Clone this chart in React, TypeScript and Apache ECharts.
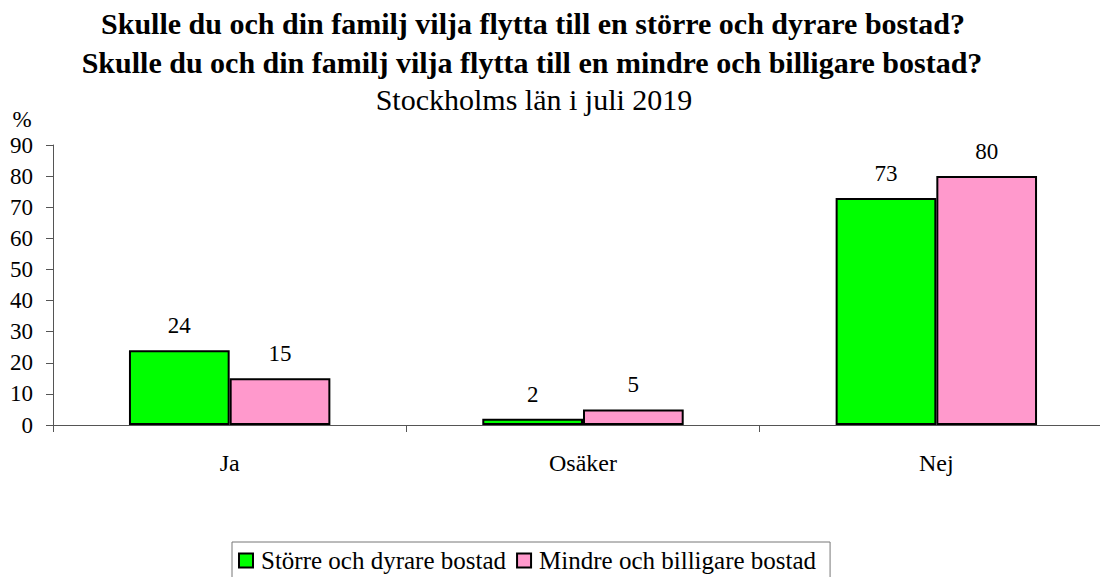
import React, { useEffect, useRef } from "react";
import * as echarts from "echarts";

const categories = ["Ja", "Osäker", "Nej"];
const seriesNames = ["Större och dyrare bostad", "Mindre och billigare bostad"];
const storre = [24, 2, 73];
const mindre = [15, 5, 80];
const titleLines = [
  "Skulle du och din familj vilja flytta till en större och dyrare bostad?",
  "Skulle du och din familj vilja flytta till en mindre och billigare bostad?",
];
const subtitle = "Stockholms län i juli 2019";

const FONT = "Liberation Serif";

export default function App() {
  const ref = useRef<HTMLDivElement>(null);
  useEffect(() => {
    if (!ref.current) return;
    const chart = echarts.init(ref.current, null, { renderer: "svg" });
    const labelCfg = {
      show: true,
      position: "top",
      distance: 13,
      fontFamily: FONT,
      fontSize: 23,
      color: "#000",
    };
    chart.setOption({
      animation: false,
      backgroundColor: "#fff",
      textStyle: { fontFamily: FONT },
      graphic: [
        {
          type: "text",
          x: 533,
          y: 23,
          style: {
            text: titleLines[0],
            fontFamily: FONT,
            fontSize: 30,
            fontWeight: "bold",
            fill: "#000",
            textAlign: "center",
            textVerticalAlign: "middle",
          },
        },
        {
          type: "text",
          x: 532,
          y: 62,
          style: {
            text: titleLines[1],
            fontFamily: FONT,
            fontSize: 30,
            fontWeight: "bold",
            fill: "#000",
            textAlign: "center",
            textVerticalAlign: "middle",
          },
        },
        {
          type: "text",
          x: 534,
          y: 99,
          style: {
            text: subtitle,
            fontFamily: FONT,
            fontSize: 30,
            fill: "#000",
            textAlign: "center",
            textVerticalAlign: "middle",
          },
        },
        {
          type: "text",
          x: 22,
          y: 119,
          style: {
            text: "%",
            fontFamily: FONT,
            fontSize: 23,
            fill: "#000",
            textAlign: "center",
            textVerticalAlign: "middle",
          },
        },
      ],
      legend: {
        top: 542,
        left: 232,
        itemWidth: 14,
        itemHeight: 14,
        itemGap: 10,
        padding: [6, 14, 20, 6],
        borderColor: "#777",
        borderWidth: 1,
        icon: "rect",
        textStyle: { fontFamily: FONT, fontSize: 25, color: "#000", padding: [0, 0, 0, 3] },
        data: seriesNames,
      },
      grid: { left: 53, top: 145, width: 1060, height: 280, containLabel: false },
      xAxis: {
        type: "category",
        data: categories,
        axisLine: { lineStyle: { color: "#555", width: 1 } },
        axisTick: { show: true, length: 7, inside: false, lineStyle: { color: "#555" } },
        axisLabel: { fontFamily: FONT, fontSize: 24, color: "#000", margin: 26 },
      },
      yAxis: {
        type: "value",
        min: 0,
        max: 90,
        interval: 10,
        splitLine: { show: false },
        axisLine: { show: true, lineStyle: { color: "#555", width: 1 } },
        axisTick: { show: true, length: 7, lineStyle: { color: "#555" } },
        axisLabel: { fontFamily: FONT, fontSize: 23, color: "#000", margin: 20 },
      },
      series: [
        {
          name: seriesNames[0],
          type: "bar",
          data: storre,
          barGap: "0%",
          barCategoryGap: "43%",
          itemStyle: { color: "#00ff00", borderColor: "#000", borderWidth: 2 },
          label: labelCfg,
        },
        {
          name: seriesNames[1],
          type: "bar",
          data: mindre,
          barGap: "0%",
          barCategoryGap: "43%",
          itemStyle: { color: "#ff99cc", borderColor: "#000", borderWidth: 2 },
          label: labelCfg,
        },
      ],
    });
    return () => chart.dispose();
  }, []);
  return (
    <div
      style={{
        position: "absolute",
        left: 0,
        top: 0,
        width: 1100,
        height: 577,
        overflow: "hidden",
        background: "#fff",
      }}
    >
      <div ref={ref} style={{ width: 1113, height: 577 }} />
    </div>
  );
}
